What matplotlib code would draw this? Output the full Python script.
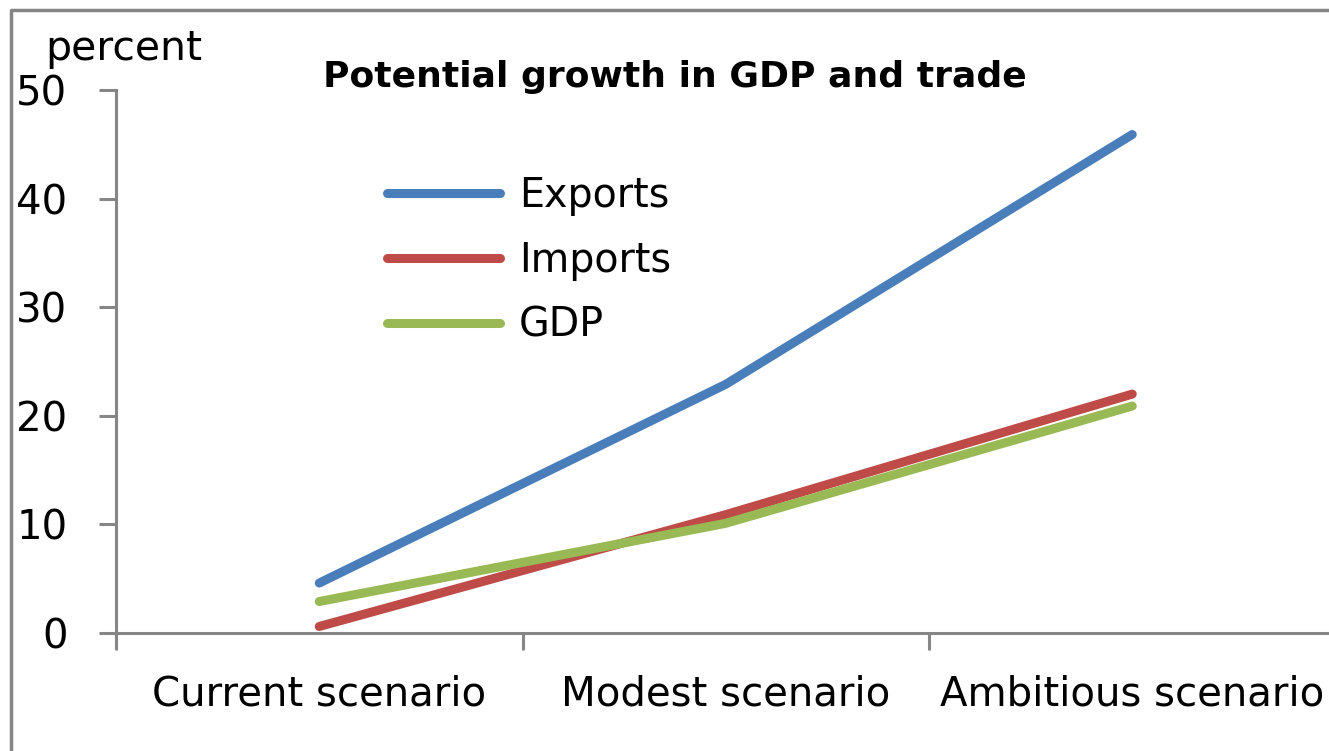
import matplotlib.pyplot as plt
from matplotlib.lines import Line2D

# Data
scenarios = ["Current scenario", "Modest scenario", "Ambitious scenario"]
exports = [4.6, 22.9, 45.9]
imports = [0.6, 10.9, 22.0]
gdp = [2.9, 10.1, 20.9]
y_ticks = [0, 10, 20, 30, 40, 50]

colors = {"Exports": "#4A7EBB", "Imports": "#BE4B48", "GDP": "#98B954"}
axis_grey = "#868686"

fig = plt.figure(figsize=(13.29, 7.51), dpi=100)
ax = fig.add_axes([116 / 1329, 118 / 751, 1219.5 / 1329, 543 / 751])

xpos = [0.5, 1.5, 2.5]
for name, vals in [("Exports", exports), ("Imports", imports), ("GDP", gdp)]:
    ax.plot(xpos, vals, color=colors[name], lw=6.5, solid_capstyle="round",
            solid_joinstyle="round", label=name, clip_on=False)

ax.set_xlim(0, 3)
ax.set_ylim(0, 50)
ax.set_yticks(y_ticks)
ax.set_xticks([0, 1, 2, 3])
ax.set_xticklabels([])
ax.set_xticks(xpos, minor=True)
ax.set_xticklabels(scenarios, minor=True)
ax.tick_params(axis="x", which="minor", length=0, pad=30, labelsize=29)
ax.tick_params(axis="x", which="major", length=12, width=2.2, color=axis_grey, direction="out")
ax.tick_params(axis="y", length=12, width=2.2, color=axis_grey, direction="out", pad=23, labelsize=29)

for side in ["top", "right"]:
    ax.spines[side].set_visible(False)
for side in ["left", "bottom"]:
    ax.spines[side].set_color(axis_grey)
    ax.spines[side].set_linewidth(2.2)

# unit label and title
fig.text(45 / 1329, 1 - 49 / 751, "percent", fontsize=29.5, va="center", ha="left")
fig.text(675 / 1329, 1 - 77 / 751, "Potential growth in GDP and trade", fontsize=26,
         fontweight="bold", ha="center", va="center")

leg = ax.legend(loc="upper left", bbox_to_anchor=(0.2226, 1 - 0.158), frameon=False,
                fontsize=28.5, handlelength=2.85, handletextpad=0.47, labelspacing=0.63,
                borderaxespad=0, borderpad=0)

# outer chart border (left and top edges only are visible)
x0, y0 = 11 / 1329, 1 - 10 / 751
fig.lines.append(Line2D([x0, x0, 1.0], [0, y0, y0], transform=fig.transFigure,
                        color=axis_grey, lw=2.5))

fig.savefig("out.png", dpi=100)
